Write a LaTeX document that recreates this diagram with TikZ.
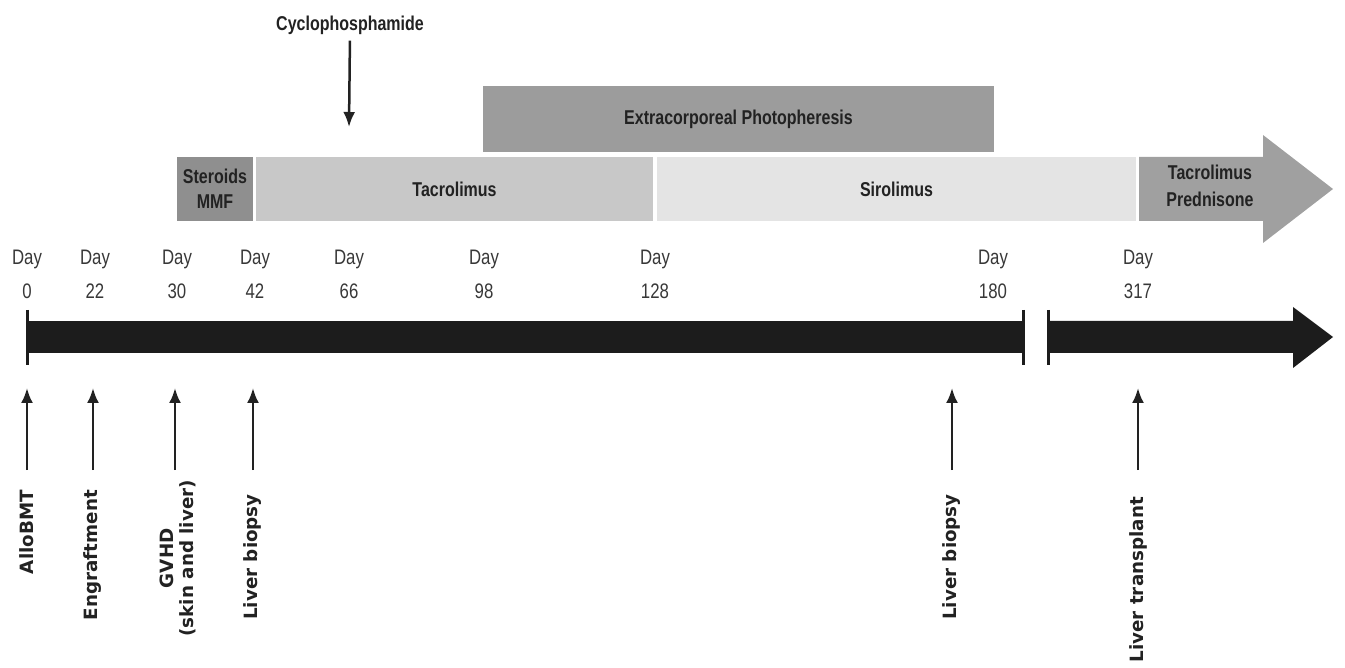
\documentclass[tikz,border=0pt]{standalone}
\usepackage{fontspec}
\setmainfont{Liberation Sans}
\newfontfamily\condf[FakeStretch=0.8]{Liberation Sans}
\newfontfamily\wideb{DejaVu Sans}
\usetikzlibrary{arrows.meta}
\definecolor{ecpc}{HTML}{9C9C9C}
\definecolor{sterc}{HTML}{8F8F8F}
\definecolor{tacc}{HTML}{C8C8C8}
\definecolor{siroc}{HTML}{E4E4E4}
\definecolor{tpc}{HTML}{A0A0A0}
\definecolor{barc}{HTML}{1C1C1C}
\definecolor{inkc}{HTML}{222222}
\begin{document}
\begin{tikzpicture}[x=1pt,y=-1pt,
  daylab/.style={align=center, font=\condf\fontsize{21}{34}\selectfont, text=inkc!90, inner sep=0, anchor=north},
  boxlab/.style={font=\condf\bfseries\fontsize{20}{25}\selectfont, text=inkc, align=center, inner sep=0},
  tbox/.style={boxlab, minimum height=64pt},
  vlab/.style={font=\wideb\bfseries\fontsize{18.3}{20}\selectfont, text=inkc, rotate=90, anchor=east, align=center, inner sep=0},
  uparr/.style={-{Latex[length=15pt,width=12pt]}, line width=2.5pt, draw=inkc, shorten <=20pt},
  tick/.style={line width=3pt, draw=barc}
]
\useasboundingbox (0,0) rectangle (1345,668);

% top treatment bars
\node[boxlab] (cyc) at (350,25) {Cyclophosphamide};
\coordinate (cyend) at (349,127);
\draw[-{Latex[length=15pt,width=12pt]}, line width=2.5pt, draw=inkc, shorten <=6pt] (cyc.south) -- (cyend);

\node[boxlab, fill=ecpc, minimum width=511pt, minimum height=66pt] (ecp) at (738.5,119) {Extracorporeal Photopheresis};
\node[tbox, fill=sterc, minimum width=76pt] (ster) at (215,189) {Steroids\\MMF};
\node[tbox, fill=tacc, minimum width=397pt] (tac) at (454.5,189) {Tacrolimus};
\node[tbox, fill=siroc, minimum width=479pt] (siro) at (896.5,189) {Sirolimus};
\fill[tpc] (1139,157) -- (1263,157) -- (1263,135) -- (1333,189) -- (1263,243) -- (1263,221) -- (1139,221) -- cycle;
\node[boxlab, font=\condf\bfseries\fontsize{20}{27}\selectfont] (tp) at (1210,186) {Tacrolimus\\Prednisone};

% day labels
\node[daylab] (d0) at (27,250) {Day\\0};
\node[daylab] (d22) at (95,250) {Day\\22};
\node[daylab] (d30) at (177,250) {Day\\30};
\node[daylab] (d42) at (255,250) {Day\\42};
\node[daylab] (d66) at (349,250) {Day\\66};
\node[daylab] (d98) at (484,250) {Day\\98};
\node[daylab] (d128) at (655,250) {Day\\128};
\node[daylab] (d180) at (993,250) {Day\\180};
\node[daylab] (d317) at (1138,250) {Day\\317};

% timeline
\fill[barc] (27,321) rectangle (1023,353);
\fill[barc] (1048,321) -- (1293,321) -- (1293,307) -- (1333,337) -- (1293,368) -- (1293,353) -- (1048,353) -- cycle;
\draw[tick] (27,310) -- (27,365);
\draw[tick] (1023,310) -- (1023,365);
\draw[tick] (1048,310) -- (1048,365);

% events
\coordinate (e0) at (27,388);
\coordinate (e22) at (93,388);
\coordinate (e30) at (175,388);
\coordinate (e42) at (253,388);
\coordinate (e180) at (952,388);
\coordinate (e317) at (1138,388);

\node[vlab] (l0) at (27,490) {AlloBMT};
\node[vlab] (l22) at (93,490) {Engraftment};
\node[vlab] (l30) at (178,480) {GVHD\\(skin and liver)};
\node[vlab] (l42) at (253,494) {Liver biopsy};
\node[vlab] (l180) at (952,494) {Liver biopsy};
\node[vlab] (l317) at (1138,497) {Liver transplant};

\draw[uparr] (l0.east) -- (e0);
\draw[uparr] (l22.east) -- (e22);
\draw[uparr, shorten <=10pt] (l30.east -| e30) -- (e30);
\draw[uparr, shorten <=24pt] (l42.east) -- (e42);
\draw[uparr, shorten <=24pt] (l180.east) -- (e180);
\draw[uparr, shorten <=27pt] (l317.east) -- (e317);
\end{tikzpicture}
\end{document}
